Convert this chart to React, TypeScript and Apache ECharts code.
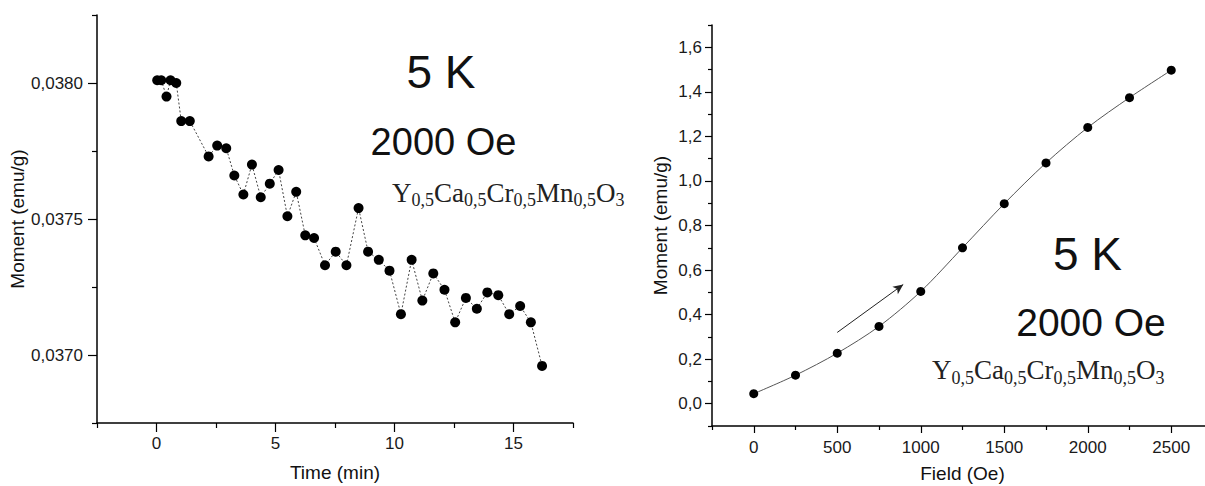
import React, { useEffect, useRef } from "react";
import * as echarts from "echarts";

// ---- data: left panel (moment vs time) ----
const timeMin = [0.03, 0.2, 0.42, 0.59, 0.83, 1.04, 1.4, 2.19, 2.55, 2.93, 3.27, 3.65, 4.01, 4.38, 4.76, 5.13, 5.5, 5.87, 6.25, 6.62, 7.08, 7.53, 7.98, 8.49, 8.89, 9.34, 9.79, 10.27, 10.72, 11.17, 11.63, 12.1, 12.55, 13.0, 13.46, 13.9, 14.36, 14.82, 15.28, 15.73, 16.2];
const momentTime = [0.03801, 0.03801, 0.03795, 0.03801, 0.038, 0.03786, 0.03786, 0.03773, 0.03777, 0.03776, 0.03766, 0.03759, 0.0377, 0.03758, 0.03763, 0.03768, 0.03751, 0.0376, 0.03744, 0.03743, 0.03733, 0.03738, 0.03733, 0.03754, 0.03738, 0.03735, 0.03731, 0.03715, 0.03735, 0.0372, 0.0373, 0.03724, 0.03712, 0.03721, 0.03717, 0.03723, 0.03722, 0.03715, 0.03718, 0.03712, 0.03696];

// ---- data: right panel (moment vs field) ----
const fieldOe = [0, 250, 500, 750, 1000, 1250, 1500, 1750, 2000, 2250, 2500];
const momentField = [0.045, 0.128, 0.227, 0.347, 0.504, 0.7, 0.898, 1.081, 1.24, 1.374, 1.497];

// ---- ticks ----
const leftXTicks = [0, 5, 10, 15];
const leftXMinor = [-2.5, 2.5, 7.5, 12.5, 17.5];
const leftYTicks = [0.037, 0.0375, 0.038];
const leftYMinor = [0.03675, 0.03725, 0.03775, 0.03825];
const rightXTicks = [0, 500, 1000, 1500, 2000, 2500];
const rightXMinor = [-250, 250, 750, 1250, 1750, 2250, 2750];
const rightYTicks = [0, 0.2, 0.4, 0.6, 0.8, 1.0, 1.2, 1.4, 1.6];
const rightYMinor = [-0.1, 0.1, 0.3, 0.5, 0.7, 0.9, 1.1, 1.3, 1.5, 1.7];

// ---- annotations ----
const arrowFrom = [500, 0.32];
const arrowTo = [895, 0.535];
const tempText = "5 K";
const fieldText = "2000 Oe";
const formulaRich = "{n|Y}{s|0,5}{n|Ca}{s|0,5}{n|Cr}{s|0,5}{n|Mn}{s|0,5}{n|O}{s|3}";

const SANS = "'Liberation Sans', Arial, sans-serif";
const SERIF = "'Liberation Serif', 'Times New Roman', serif";

function mainAxis(gridIndex: number, min: number, max: number, ticks: number[], fmt: (v: number) => string, tickLen: number, margin: number, name: string, nameGap: number, pos: string) {
  return {
    type: "value",
    gridIndex,
    min,
    max,
    position: pos,
    name,
    nameLocation: "middle",
    nameGap,
    nameTextStyle: { fontSize: 19, fontFamily: SANS, color: "#111" },
    axisLine: { show: true, onZero: false, lineStyle: { color: "#000", width: 1.5 } },
    axisTick: { show: true, inside: false, length: tickLen, customValues: ticks, lineStyle: { color: "#000", width: 1.2 } },
    axisLabel: { show: true, customValues: ticks, formatter: fmt, margin, fontSize: 17, fontFamily: SANS, color: "#1a1a1a" },
    splitLine: { show: false },
  };
}

function minorAxis(gridIndex: number, min: number, max: number, ticks: number[], tickLen: number, pos: string) {
  return {
    type: "value",
    gridIndex,
    min,
    max,
    position: pos,
    axisLine: { show: false, onZero: false },
    axisTick: { show: true, inside: false, length: tickLen, customValues: ticks, lineStyle: { color: "#000", width: 1.2 } },
    axisLabel: { show: false },
    splitLine: { show: false },
  };
}

const comma = (d: number) => (v: number) => v.toFixed(d).replace(".", ",");

export default function App() {
  const ref = useRef<HTMLDivElement>(null);
  useEffect(() => {
    if (!ref.current) return;
    const chart = echarts.init(ref.current, undefined, { renderer: "svg" });
    const option: any = {
      animation: false,
      backgroundColor: "#fff",
      grid: [
        { left: 97, top: 15, width: 476, height: 408, containLabel: false, outerBoundsMode: "none" },
        { left: 712, top: 25, width: 501, height: 401, containLabel: false, outerBoundsMode: "none" },
      ],
      xAxis: [
        mainAxis(0, -2.5, 17.5, leftXTicks, (v: number) => String(v), 9, 12, "Time (min)", 40, "bottom"),
        minorAxis(0, -2.5, 17.5, leftXMinor, 5, "bottom"),
        mainAxis(1, -250, 2750, rightXTicks, (v: number) => String(v), 7, 13, "Field (Oe)", 38, "bottom"),
        minorAxis(1, -250, 2750, rightXMinor, 4, "bottom"),
      ],
      yAxis: [
        mainAxis(0, 0.03675, 0.03825, leftYTicks, comma(4), 9, 14, "Moment (emu/g)", 64, "left"),
        minorAxis(0, 0.03675, 0.03825, leftYMinor, 5, "left"),
        mainAxis(1, -0.1, 1.7, rightYTicks, comma(1), 7, 10, "Moment (emu/g)", 42, "left"),
        minorAxis(1, -0.1, 1.7, rightYMinor, 4, "left"),
      ],
      series: [
        {
          type: "line",
          xAxisIndex: 0,
          yAxisIndex: 0,
          data: timeMin.map((t, i) => [t, momentTime[i]]),
          symbol: "circle",
          symbolSize: 10,
          showAllSymbol: true,
          itemStyle: { color: "#000" },
          lineStyle: { color: "#444", width: 1, type: [2, 2] },
          silent: true,
        },
        {
          type: "line",
          xAxisIndex: 2,
          yAxisIndex: 2,
          data: fieldOe.map((f, i) => [f, momentField[i]]),
          smooth: 0.3,
          symbol: "circle",
          symbolSize: 9,
          itemStyle: { color: "#000" },
          lineStyle: { color: "#555", width: 1 },
          silent: true,
          markLine: {
            silent: true,
            animation: false,
            symbol: ["none", "arrow"],
            symbolSize: [7, 10],
            lineStyle: { color: "#222", width: 1, type: "solid" },
            label: { show: false },
            emphasis: { disabled: true },
            data: [[{ coord: arrowFrom }, { coord: arrowTo }]],
          },
        },
      ],
      graphic: [
        { type: "text", x: 441, y: 72, style: { text: tempText, fontSize: 46, fontFamily: SANS, fill: "#111", textAlign: "center", textVerticalAlign: "middle" } },
        { type: "text", x: 443.5, y: 141.5, style: { text: fieldText, fontSize: 38, fontFamily: SANS, fill: "#111", textAlign: "center", textVerticalAlign: "middle" } },
        {
          type: "text", x: 392, y: 179,
          style: {
            text: formulaRich, fill: "#222", textAlign: "left", textVerticalAlign: "top",
            rich: {
              n: { fontFamily: SERIF, fontSize: 27, lineHeight: 27, verticalAlign: "top", fill: "#222" },
              s: { fontFamily: SERIF, fontSize: 18, lineHeight: 18, verticalAlign: "top", padding: [12, 0, 0, 0], fill: "#222" },
            },
          },
        },
        { type: "text", x: 1087.5, y: 253.5, style: { text: tempText, fontSize: 46, fontFamily: SANS, fill: "#111", textAlign: "center", textVerticalAlign: "middle" } },
        { type: "text", x: 1091, y: 322.5, style: { text: fieldText, fontSize: 39, fontFamily: SANS, fill: "#111", textAlign: "center", textVerticalAlign: "middle" } },
        {
          type: "text", x: 932, y: 356.5,
          style: {
            text: formulaRich, fill: "#222", textAlign: "left", textVerticalAlign: "top",
            rich: {
              n: { fontFamily: SERIF, fontSize: 27, lineHeight: 27, verticalAlign: "top", fill: "#222" },
              s: { fontFamily: SERIF, fontSize: 18, lineHeight: 18, verticalAlign: "top", padding: [12, 0, 0, 0], fill: "#222" },
            },
          },
        },
      ],
    };
    chart.setOption(option);
    return () => chart.dispose();
  }, []);
  return <div ref={ref} style={{ position: "absolute", left: 0, top: 0, width: 1205, height: 486 }} />;
}
